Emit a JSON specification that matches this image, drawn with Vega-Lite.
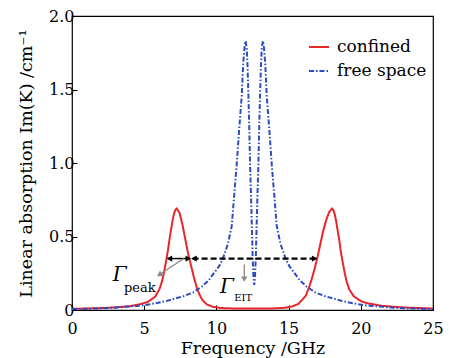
{
  "$schema": "https://vega.github.io/schema/vega-lite/v6.json",
  "width": 361,
  "height": 294,
  "autosize": {"type": "none"},
  "padding": {"left": 72, "top": 16, "right": 17, "bottom": 48},
  "background": "white",
  "config": {
    "font": "DejaVu Serif",
    "view": {"stroke": "black", "strokeWidth": 1.2},
    "axis": {
      "labelFont": "DejaVu Serif",
      "labelFontSize": 16,
      "labelColor": "black",
      "labelFlush": false,
      "titleFont": "DejaVu Serif",
      "titleFontSize": 17.5,
      "titleFontWeight": "normal",
      "titleColor": "black",
      "domain": false,
      "grid": false,
      "tickColor": "black",
      "tickSize": -5,
      "tickWidth": 1
    },
    "legend": {
      "labelFont": "DejaVu Serif",
      "labelFontSize": 17,
      "labelColor": "black"
    }
  },
  "resolve": {"scale": {"color": "independent", "strokeDash": "independent", "shape": "independent"}},
  "datasets": {
    "curves": [
      {"f": 0, "a": 0.008, "s": "confined"},
      {"f": 1, "a": 0.01, "s": "confined"},
      {"f": 2, "a": 0.013, "s": "confined"},
      {"f": 3, "a": 0.018, "s": "confined"},
      {"f": 4, "a": 0.026, "s": "confined"},
      {"f": 4.75, "a": 0.04, "s": "confined"},
      {"f": 5.25, "a": 0.055, "s": "confined"},
      {"f": 5.75, "a": 0.09, "s": "confined"},
      {"f": 6.05, "a": 0.14, "s": "confined"},
      {"f": 6.25, "a": 0.2, "s": "confined"},
      {"f": 6.4, "a": 0.27, "s": "confined"},
      {"f": 6.55, "a": 0.35, "s": "confined"},
      {"f": 6.65, "a": 0.41, "s": "confined"},
      {"f": 6.75, "a": 0.48, "s": "confined"},
      {"f": 6.85, "a": 0.54, "s": "confined"},
      {"f": 6.95, "a": 0.6, "s": "confined"},
      {"f": 7.05, "a": 0.65, "s": "confined"},
      {"f": 7.15, "a": 0.68, "s": "confined"},
      {"f": 7.25, "a": 0.69, "s": "confined"},
      {"f": 7.45, "a": 0.66, "s": "confined"},
      {"f": 7.65, "a": 0.58, "s": "confined"},
      {"f": 7.85, "a": 0.48, "s": "confined"},
      {"f": 8.05, "a": 0.38, "s": "confined"},
      {"f": 8.25, "a": 0.3, "s": "confined"},
      {"f": 8.45, "a": 0.22, "s": "confined"},
      {"f": 8.65, "a": 0.15, "s": "confined"},
      {"f": 8.85, "a": 0.1, "s": "confined"},
      {"f": 9.05, "a": 0.065, "s": "confined"},
      {"f": 9.35, "a": 0.037, "s": "confined"},
      {"f": 9.75, "a": 0.022, "s": "confined"},
      {"f": 10.25, "a": 0.014, "s": "confined"},
      {"f": 11, "a": 0.011, "s": "confined"},
      {"f": 12, "a": 0.01, "s": "confined"},
      {"f": 13, "a": 0.01, "s": "confined"},
      {"f": 14, "a": 0.011, "s": "confined"},
      {"f": 14.75, "a": 0.015, "s": "confined"},
      {"f": 15.25, "a": 0.024, "s": "confined"},
      {"f": 15.65, "a": 0.04, "s": "confined"},
      {"f": 15.95, "a": 0.07, "s": "confined"},
      {"f": 16.2, "a": 0.1, "s": "confined"},
      {"f": 16.4, "a": 0.15, "s": "confined"},
      {"f": 16.6, "a": 0.21, "s": "confined"},
      {"f": 16.8, "a": 0.28, "s": "confined"},
      {"f": 17.0, "a": 0.36, "s": "confined"},
      {"f": 17.2, "a": 0.45, "s": "confined"},
      {"f": 17.4, "a": 0.54, "s": "confined"},
      {"f": 17.6, "a": 0.61, "s": "confined"},
      {"f": 17.8, "a": 0.665, "s": "confined"},
      {"f": 18.0, "a": 0.69, "s": "confined"},
      {"f": 18.1, "a": 0.68, "s": "confined"},
      {"f": 18.2, "a": 0.65, "s": "confined"},
      {"f": 18.3, "a": 0.6, "s": "confined"},
      {"f": 18.4, "a": 0.54, "s": "confined"},
      {"f": 18.5, "a": 0.48, "s": "confined"},
      {"f": 18.6, "a": 0.41, "s": "confined"},
      {"f": 18.7, "a": 0.35, "s": "confined"},
      {"f": 18.85, "a": 0.27, "s": "confined"},
      {"f": 19.0, "a": 0.2, "s": "confined"},
      {"f": 19.2, "a": 0.14, "s": "confined"},
      {"f": 19.5, "a": 0.095, "s": "confined"},
      {"f": 20.0, "a": 0.06, "s": "confined"},
      {"f": 20.5, "a": 0.045, "s": "confined"},
      {"f": 21.5, "a": 0.028, "s": "confined"},
      {"f": 23, "a": 0.017, "s": "confined"},
      {"f": 25, "a": 0.01, "s": "confined"},
      {"f": 0, "a": 0.006, "s": "free space"},
      {"f": 1, "a": 0.008, "s": "free space"},
      {"f": 2, "a": 0.011, "s": "free space"},
      {"f": 3, "a": 0.016, "s": "free space"},
      {"f": 3.7, "a": 0.022, "s": "free space"},
      {"f": 4.5, "a": 0.028, "s": "free space"},
      {"f": 5.0, "a": 0.033, "s": "free space"},
      {"f": 5.75, "a": 0.045, "s": "free space"},
      {"f": 6.5, "a": 0.06, "s": "free space"},
      {"f": 7.15, "a": 0.078, "s": "free space"},
      {"f": 7.75, "a": 0.095, "s": "free space"},
      {"f": 8.4, "a": 0.12, "s": "free space"},
      {"f": 9.0, "a": 0.16, "s": "free space"},
      {"f": 9.45, "a": 0.2, "s": "free space"},
      {"f": 9.9, "a": 0.26, "s": "free space"},
      {"f": 10.2, "a": 0.3, "s": "free space"},
      {"f": 10.45, "a": 0.35, "s": "free space"},
      {"f": 10.8, "a": 0.45, "s": "free space"},
      {"f": 11.06, "a": 0.57, "s": "free space"},
      {"f": 11.24, "a": 0.79, "s": "free space"},
      {"f": 11.4, "a": 0.98, "s": "free space"},
      {"f": 11.57, "a": 1.22, "s": "free space"},
      {"f": 11.75, "a": 1.45, "s": "free space"},
      {"f": 11.86, "a": 1.68, "s": "free space"},
      {"f": 11.95, "a": 1.79, "s": "free space"},
      {"f": 12.02, "a": 1.83, "s": "free space"},
      {"f": 12.1, "a": 1.78, "s": "free space"},
      {"f": 12.16, "a": 1.65, "s": "free space"},
      {"f": 12.22, "a": 1.45, "s": "free space"},
      {"f": 12.28, "a": 1.22, "s": "free space"},
      {"f": 12.33, "a": 1.0, "s": "free space"},
      {"f": 12.42, "a": 0.7, "s": "free space"},
      {"f": 12.51, "a": 0.36, "s": "free space"},
      {"f": 12.57, "a": 0.22, "s": "free space"},
      {"f": 12.62, "a": 0.17, "s": "free space"},
      {"f": 12.67, "a": 0.22, "s": "free space"},
      {"f": 12.73, "a": 0.36, "s": "free space"},
      {"f": 12.82, "a": 0.7, "s": "free space"},
      {"f": 12.91, "a": 1.0, "s": "free space"},
      {"f": 12.96, "a": 1.22, "s": "free space"},
      {"f": 13.02, "a": 1.45, "s": "free space"},
      {"f": 13.08, "a": 1.65, "s": "free space"},
      {"f": 13.14, "a": 1.78, "s": "free space"},
      {"f": 13.22, "a": 1.83, "s": "free space"},
      {"f": 13.29, "a": 1.79, "s": "free space"},
      {"f": 13.38, "a": 1.68, "s": "free space"},
      {"f": 13.49, "a": 1.45, "s": "free space"},
      {"f": 13.67, "a": 1.22, "s": "free space"},
      {"f": 13.84, "a": 0.98, "s": "free space"},
      {"f": 14.0, "a": 0.79, "s": "free space"},
      {"f": 14.18, "a": 0.57, "s": "free space"},
      {"f": 14.44, "a": 0.45, "s": "free space"},
      {"f": 14.79, "a": 0.35, "s": "free space"},
      {"f": 15.04, "a": 0.3, "s": "free space"},
      {"f": 15.34, "a": 0.26, "s": "free space"},
      {"f": 15.79, "a": 0.2, "s": "free space"},
      {"f": 16.24, "a": 0.16, "s": "free space"},
      {"f": 16.84, "a": 0.12, "s": "free space"},
      {"f": 17.49, "a": 0.095, "s": "free space"},
      {"f": 18.09, "a": 0.078, "s": "free space"},
      {"f": 18.74, "a": 0.06, "s": "free space"},
      {"f": 19.49, "a": 0.045, "s": "free space"},
      {"f": 20.24, "a": 0.033, "s": "free space"},
      {"f": 20.74, "a": 0.028, "s": "free space"},
      {"f": 21.54, "a": 0.022, "s": "free space"},
      {"f": 22.24, "a": 0.016, "s": "free space"},
      {"f": 23.24, "a": 0.011, "s": "free space"},
      {"f": 24.24, "a": 0.008, "s": "free space"},
      {"f": 25, "a": 0.006, "s": "free space"}
    ],
    "solidSeg": [{"x1": 6.65, "x2": 8.15, "y1": 0.35, "y2": 0.35}],
    "dashedSeg": [{"x1": 8.35, "x2": 16.9, "y1": 0.35, "y2": 0.35}],
    "graySeg": [
      {"x1": 7.75, "x2": 5.95, "y1": 0.35, "y2": 0.235},
      {"x1": 11.93, "x2": 11.93, "y1": 0.31, "y2": 0.2}
    ],
    "blackHeads": [
      {"x": 6.75, "y": 0.35, "shape": "triangle-left"},
      {"x": 8.05, "y": 0.35, "shape": "triangle-right"},
      {"x": 8.45, "y": 0.35, "shape": "triangle-left"},
      {"x": 16.8, "y": 0.35, "shape": "triangle-right"}
    ],
    "grayHeads": [
      {"x": 6.05, "y": 0.24, "shape": "triangle-up", "ang": 238},
      {"x": 11.93, "y": 0.21, "shape": "triangle-down", "ang": 0}
    ],
    "labels": [
      {"x": 3.3, "y": 0.235, "t": "Γ", "kind": "big"},
      {"x": 4.7, "y": 0.15, "t": "peak", "kind": "sub"},
      {"x": 10.73, "y": 0.158, "t": "Γ", "kind": "big"},
      {"x": 11.85, "y": 0.085, "t": "EIT", "kind": "sub2"}
    ]
  },
  "layer": [
    {
      "data": {"name": "curves"},
      "mark": {"type": "line", "strokeWidth": 2, "clip": true},
      "encoding": {
        "x": {
          "field": "f", "type": "quantitative",
          "scale": {"domain": [0, 25], "nice": false},
          "axis": {"values": [0, 5, 10, 15, 20, 25], "title": "Frequency /GHz", "labelPadding": 15, "titlePadding": 3}
        },
        "y": {
          "field": "a", "type": "quantitative",
          "scale": {"domain": [0, 2], "nice": false},
          "axis": {"values": [0, 0.5, 1, 1.5, 2], "labelExpr": "datum.value == 0 ? '0' : format(datum.value, '.1f')", "title": "Linear absorption Im(K) /cm⁻¹", "labelPadding": 3, "titlePadding": 13}
        },
        "color": {
          "field": "s", "type": "nominal",
          "scale": {"domain": ["confined", "free space"], "range": ["#e8262b", "#2b4cc0"]},
          "legend": {"title": null, "orient": "none", "legendX": 236, "legendY": 20, "symbolType": "stroke", "symbolSize": 400, "symbolStrokeWidth": 2, "labelOffset": 7, "rowPadding": 5}
        },
        "strokeDash": {
          "field": "s", "type": "nominal",
          "scale": {"domain": ["confined", "free space"], "range": [[1, 0], [5, 2, 1.5, 2]]},
          "legend": {"title": null, "orient": "none", "legendX": 236, "legendY": 20, "symbolType": "stroke", "symbolSize": 400, "symbolStrokeWidth": 2, "labelOffset": 7, "rowPadding": 5}
        }
      }
    },
    {
      "data": {"name": "solidSeg"},
      "mark": {"type": "rule", "color": "black", "strokeWidth": 1.5},
      "encoding": {
        "x": {"field": "x1", "type": "quantitative"},
        "x2": {"field": "x2"},
        "y": {"field": "y1", "type": "quantitative"},
        "y2": {"field": "y2"}
      }
    },
    {
      "data": {"name": "dashedSeg"},
      "mark": {"type": "rule", "color": "black", "strokeWidth": 2.2, "strokeDash": [6, 3]},
      "encoding": {
        "x": {"field": "x1", "type": "quantitative"},
        "x2": {"field": "x2"},
        "y": {"field": "y1", "type": "quantitative"},
        "y2": {"field": "y2"}
      }
    },
    {
      "data": {"name": "graySeg"},
      "mark": {"type": "rule", "color": "#8a8a8a", "strokeWidth": 1.3},
      "encoding": {
        "x": {"field": "x1", "type": "quantitative"},
        "x2": {"field": "x2"},
        "y": {"field": "y1", "type": "quantitative"},
        "y2": {"field": "y2"}
      }
    },
    {
      "data": {"name": "blackHeads"},
      "mark": {"type": "point", "filled": true, "opacity": 1, "size": 40, "color": "black"},
      "encoding": {
        "x": {"field": "x", "type": "quantitative"},
        "y": {"field": "y", "type": "quantitative"},
        "shape": {"field": "shape", "type": "nominal", "scale": null}
      }
    },
    {
      "data": {"name": "grayHeads"},
      "mark": {"type": "point", "filled": true, "opacity": 1, "size": 40, "color": "#8a8a8a"},
      "encoding": {
        "x": {"field": "x", "type": "quantitative"},
        "y": {"field": "y", "type": "quantitative"},
        "shape": {"field": "shape", "type": "nominal", "scale": null},
        "angle": {"field": "ang", "type": "quantitative", "scale": null}
      }
    },
    {
      "data": {"name": "labels"},
      "transform": [{"filter": "datum.kind == 'big'"}],
      "mark": {"type": "text", "font": "DejaVu Serif", "fontStyle": "italic", "fontSize": 20, "color": "black"},
      "encoding": {
        "x": {"field": "x", "type": "quantitative"},
        "y": {"field": "y", "type": "quantitative"},
        "text": {"field": "t"}
      }
    },
    {
      "data": {"name": "labels"},
      "transform": [{"filter": "datum.kind == 'sub'"}],
      "mark": {"type": "text", "font": "DejaVu Serif", "fontSize": 13, "color": "black"},
      "encoding": {
        "x": {"field": "x", "type": "quantitative"},
        "y": {"field": "y", "type": "quantitative"},
        "text": {"field": "t"}
      }
    },
    {
      "data": {"name": "labels"},
      "transform": [{"filter": "datum.kind == 'sub2'"}],
      "mark": {"type": "text", "font": "DejaVu Serif", "fontSize": 10, "color": "black"},
      "encoding": {
        "x": {"field": "x", "type": "quantitative"},
        "y": {"field": "y", "type": "quantitative"},
        "text": {"field": "t"}
      }
    }
  ]
}
